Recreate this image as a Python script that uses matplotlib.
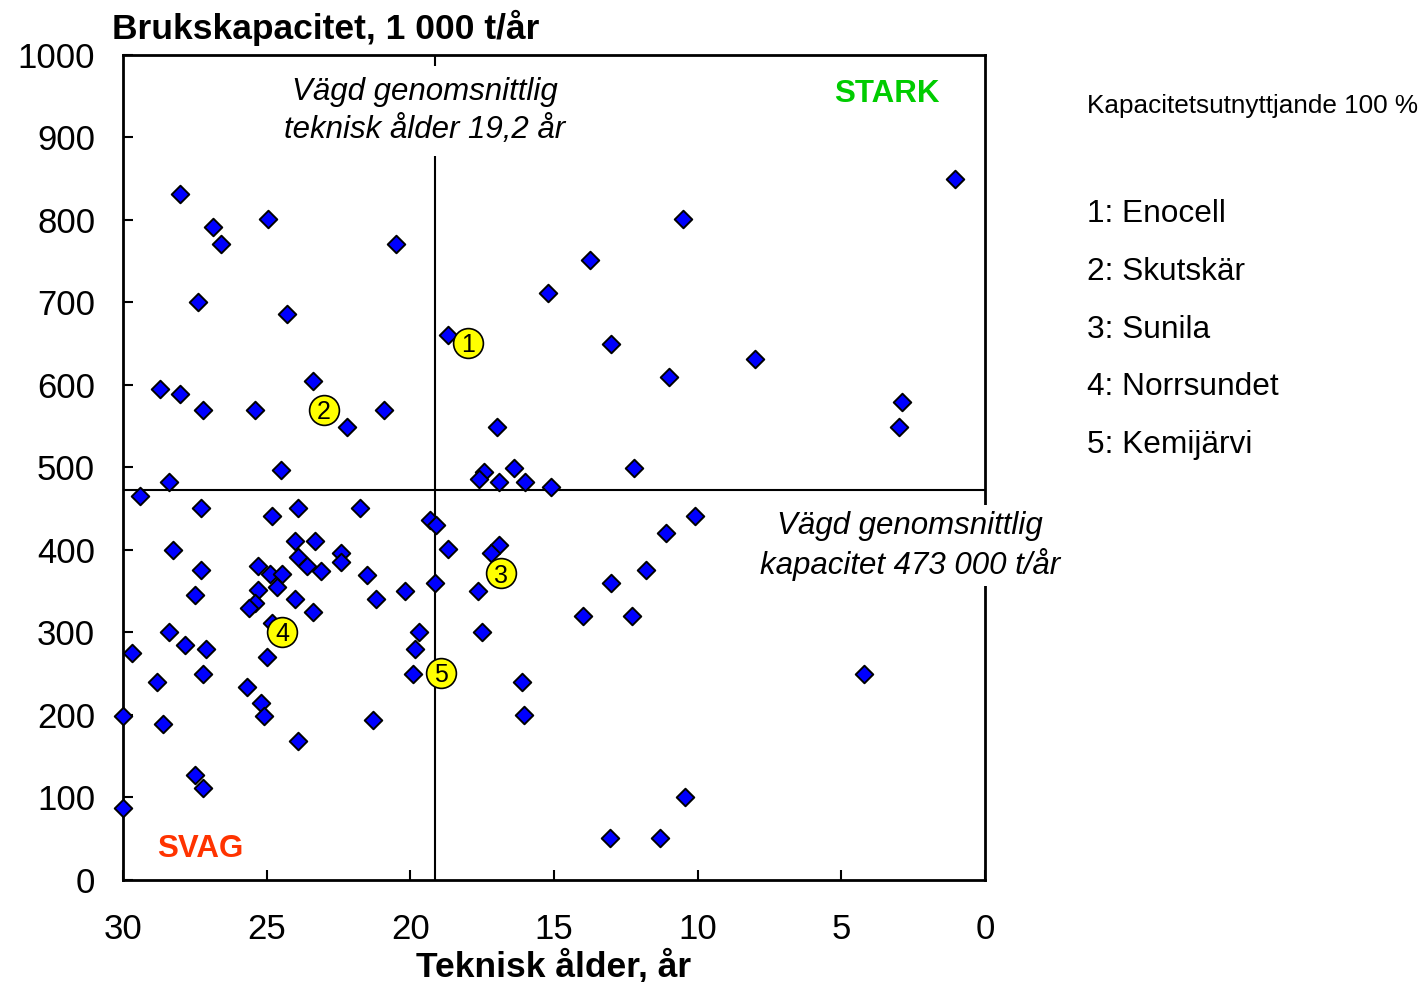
import matplotlib.pyplot as plt

plt.rcParams["font.family"] = ["Liberation Sans", "DejaVu Sans"]

# technical age (years) and capacity (1 000 t/year) for each mill
age = [
    28.0, 26.85, 26.6, 24.95, 27.4, 24.3, 20.5, 28.7, 28.0, 27.2, 25.4, 23.4,
    20.9, 22.2, 24.5, 28.4,
    29.4, 27.3, 24.8, 23.9, 21.75, 19.3, 19.1, 28.25, 27.3, 24.0, 23.3, 23.9,
    23.6, 23.1, 22.4, 22.4, 21.5, 25.3, 24.9, 24.45, 24.65, 25.3, 25.4, 25.6,
    24.0, 23.4, 21.2, 20.2, 19.15, 27.5, 28.4, 27.85, 27.1, 29.7, 28.8, 27.2,
    25.0, 25.7, 25.2, 25.1, 23.9, 30.0, 28.6, 21.3, 19.7, 19.85, 19.9, 27.5,
    27.2, 30.0, 24.8,
    18.7, 16.9, 17.2, 17.65, 17.5, 16.1, 16.05, 10.1, 11.1, 11.8, 13.0, 14.0,
    12.3, 4.2, 10.45, 13.05, 11.3,
    18.7, 15.2, 13.75, 10.5, 1.05, 13.0, 8.0, 11.0, 2.9, 3.0, 17.0, 12.2,
    16.4, 17.45, 17.6, 16.9, 16.0, 15.1,
]
capacity = [
    831, 791, 771, 801, 700, 686, 771, 595, 589, 570, 570, 605,
    570, 549, 497, 482,
    466, 451, 441, 451, 451, 436, 430, 400, 376, 411, 411, 391,
    380, 375, 396, 385, 370, 381, 371, 371, 355, 351, 336, 330,
    341, 325, 341, 350, 360, 345, 300, 285, 280, 275, 240, 250,
    270, 234, 215, 199, 169, 199, 189, 194, 300, 280, 250, 127,
    111, 87, 312,
    401, 406, 396, 350, 300, 240, 200, 441, 421, 376, 360, 320,
    320, 250, 101, 51, 51,
    660, 711, 751, 801, 850, 650, 631, 610, 579, 549, 549, 499,
    499, 494, 486, 482, 482, 476,
]

# highlighted mills
hl_ids = ["1", "2", "3", "4", "5"]
hl_names = ["Enocell", "Skutskär", "Sunila", "Norrsundet", "Kemijärvi"]
hl_age = [18.0, 23.0, 16.85, 24.45, 18.93]
hl_capacity = [651, 570, 372, 301, 251]

mean_age = 19.2
mean_capacity = 473

fig = plt.figure(figsize=(14.25, 9.82), dpi=100)
ax = fig.add_axes([0.0863, 0.1039, 0.6049, 0.8401])

ax.axvline(mean_age - 0.05, color="black", lw=1.5, zorder=1)
ax.axhline(mean_capacity, color="black", lw=1.5, zorder=1)

ax.scatter(age, capacity, marker="D", s=80, color="#0000FF",
           edgecolors="black", linewidths=1.4, zorder=3, clip_on=False)

ax.scatter(hl_age, hl_capacity, marker="o", s=460, color="#FFFF00",
           edgecolors="black", linewidths=1.2, zorder=4)
for i, x, y in zip(hl_ids, hl_age, hl_capacity):
    ax.text(x, y, i, ha="center", va="center_baseline", fontsize=18,
            zorder=5)

ax.set_xlim(30, 0)
ax.set_ylim(0, 1000)
ax.set_xticks(range(30, -1, -5))
ax.set_yticks(range(0, 1001, 100))
ax.tick_params(axis="both", direction="in", length=7, width=1.5,
               labelsize=25)
ax.tick_params(axis="y", pad=20)
ax.tick_params(axis="x", pad=24)
for s in ax.spines.values():
    s.set_linewidth(2)

ax.set_xlabel("Teknisk ålder, år", fontsize=25.5, fontweight="bold",
              labelpad=2)

box = dict(facecolor="white", edgecolor="none", pad=8)
ax.text(19.49, 932, "Vägd genomsnittlig\nteknisk ålder 19,2 år",
        ha="center", va="center", fontsize=22.5, style="italic",
        bbox=box, zorder=6, linespacing=1.35)
ax.text(2.61, 405, "Vägd genomsnittlig\nkapacitet 473 000 t/år",
        ha="center", va="center", fontsize=22.5, style="italic",
        bbox=dict(facecolor="white", edgecolor="none", pad=4),
        zorder=6, linespacing=1.25, clip_on=False)

ax.text(3.4, 953, "STARK", ha="center", va="center", fontsize=22.5,
        fontweight="bold", color="#00CC00")
ax.text(27.3, 37, "SVAG", ha="center", va="center", fontsize=22.5,
        fontweight="bold", color="#FF3300")

fig.text(112 / 1425, 1 - 28 / 982, "Brukskapacitet, 1 000 t/år",
         ha="left", va="center", fontsize=25.5, fontweight="bold")

fig.text(1087 / 1425, 1 - 106 / 982, "Kapacitetsutnyttjande 100 %",
         ha="left", va="center", fontsize=18.8)
for k, (i, name) in enumerate(zip(hl_ids, hl_names)):
    fig.text(1087 / 1425, 1 - (214 + k * 57.8) / 982, f"{i}: {name}",
             ha="left", va="center", fontsize=22.8)

fig.savefig("out.png", dpi=100)
